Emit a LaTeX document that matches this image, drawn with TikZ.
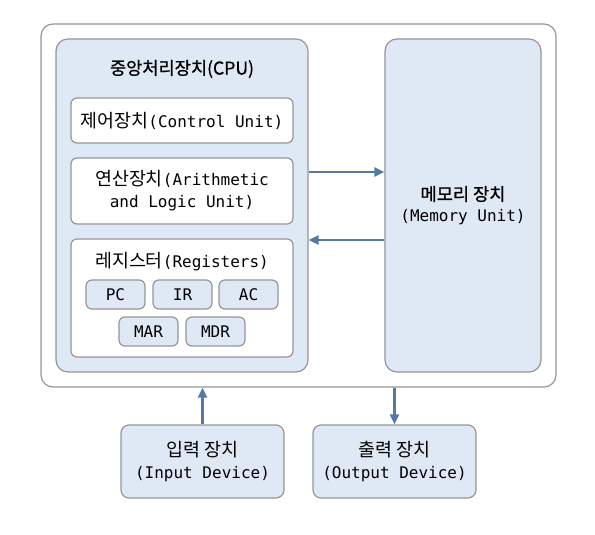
\documentclass[tikz,border=0pt]{standalone}
\usepackage{fontspec}
\setmainfont{Noto Sans CJK KR}[Scale=1.15]
\setmonofont{DejaVu Sans Mono}
\newfontfamily\krbold{Noto Sans CJK KR}[Scale=1.1, FakeBold=0.8]
\usetikzlibrary{positioning,arrows.meta}
\definecolor{boxfill}{RGB}{223,232,245}
\definecolor{edgegray}{RGB}{150,150,150}
\definecolor{arrowblue}{RGB}{84,122,163}

\begin{document}
\begin{tikzpicture}[x=1pt, y=-1pt,
  frame/.style={draw=edgegray, line width=1.2pt, rounded corners=12pt,
    inner sep=0pt},
  unit/.style={frame, fill=boxfill, font=\fontsize{16}{21}\selectfont,
    align=center},
  part/.style={draw=edgegray, line width=1.2pt, fill=white,
    rounded corners=6pt, minimum width=222pt, inner sep=0pt,
    font=\fontsize{16}{22}\selectfont, align=center},
  reg/.style={draw=edgegray, line width=1.2pt, fill=boxfill,
    rounded corners=6pt, minimum width=59pt, minimum height=29pt,
    inner sep=0pt, font=\fontsize{16}{18}\selectfont\ttfamily},
  io/.style={unit, rounded corners=8pt, minimum width=163pt,
    minimum height=73pt, font=\fontsize{16}{22}\selectfont},
  ttl/.style={font=\fontsize{16}{18}\selectfont, inner sep=0pt},
  arr/.style={-{Triangle[length=10pt,width=9pt]}, line width=2.5pt,
    draw=arrowblue},
]
  \useasboundingbox (0,0) rectangle (595,535);

  % computer system
  \node[frame, fill=white, minimum width=515pt, minimum height=363pt]
    (sys) at (298.5,205.5) {};

  % cpu
  \node[unit, minimum width=252pt, minimum height=333pt] (cpu)
    at (182,205.5) {};
  \node[ttl] (cputitle) at (182,69) {\krbold 중앙처리장치(CPU)};

  \node[part, minimum height=45pt] (cu) at (182,120.5)
    {제어장치\texttt{(Control Unit)}};
  \node[part, minimum height=66pt] (alu) at (182,191)
    {연산장치\texttt{(Arithmetic}\\\texttt{and Logic Unit)}};
  \node[part, minimum height=118pt] (regs) at (182,298) {};
  \node[ttl] (regtitle) at (182,262) {레지스터\texttt{(Registers)}};

  \node[reg] (pc) at (115.5,294.5) {PC};
  \node[reg] (ir) at (182.5,294.5) {IR};
  \node[reg] (ac) at (248.5,294.5) {AC};
  \node[reg] (mar) at (148.5,331.5) {MAR};
  \node[reg] (mdr) at (215.5,331.5) {MDR};

  % memory
  \node[unit, minimum width=156pt, minimum height=333pt] (mem)
    at (463,205.5) {{\krbold 메모리 장치}\\\texttt{(Memory Unit)}};

  % input / output
  \node[io] (inp) at (202.5,461.5) {입력 장치\\\texttt{(Input Device)}};
  \node[io] (outp) at (394.5,461.5) {출력 장치\\\texttt{(Output Device)}};

  \draw[arr] ([yshift=33.5pt]cpu.east) -- ([yshift=33.5pt]mem.west);
  \draw[arr] ([yshift=-34.5pt]mem.west) -- ([yshift=-34.5pt]cpu.east);
  \draw[arr] (inp.north) -- (inp.north |- sys.south);
  \draw[arr] (outp.north |- sys.south) -- (outp.north);
\end{tikzpicture}
\end{document}
